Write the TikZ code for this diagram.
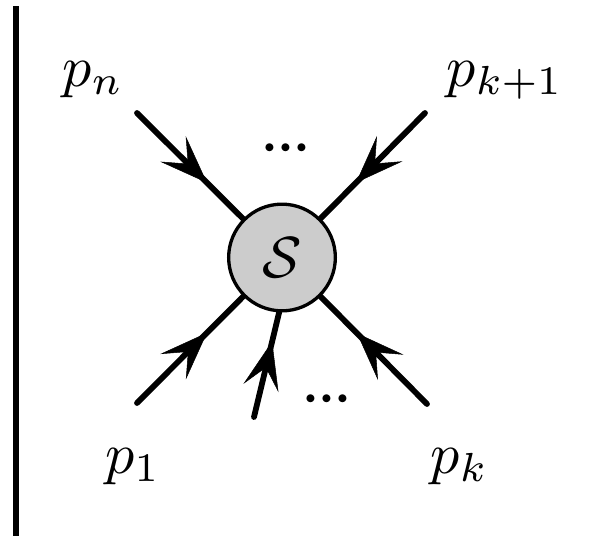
\documentclass[tikz,border=0pt]{standalone}
\usepackage{graphicx}
\usetikzlibrary{arrows.meta,decorations.markings}
\newcommand{\mylbl}[1]{\scalebox{5.8}{$#1$}}
\newcommand{\mydots}{\scalebox{7.5}{$\mathord{\cdot}\mkern-1.2mu\mathord{\cdot}\mkern-1.2mu\mathord{\cdot}$}}
\begin{document}
\begin{tikzpicture}[x=1pt,y=-1pt,
  leg/.style={line width=5.8pt, line cap=round, postaction={decorate},
    decoration={markings, mark=at position 0.5 with {\arrow[xshift=24pt]{Stealth[length=48pt,width=36pt,inset=21pt,line width=0.5pt]}}}},
  lbl/.style={inner sep=0pt, anchor=base},
  blob/.style={circle, draw, line width=3.3pt, fill=gray!40, minimum size=106.7pt, inner sep=0pt}]
\useasboundingbox (0,0) rectangle (595,536);
\fill (13,6) rectangle (19,536);
\node[blob] (S) at (282,257.5) {\mylbl{\mathcal{S}}};
\coordinate (a) at (137,113);
\coordinate (b) at (425,113);
\coordinate (c) at (137,403);
\coordinate (d) at (254,417);
\coordinate (e) at (427,404);
\draw[leg] (a) -- (S);
\draw[leg] (b) -- (S);
\draw[leg] (c) -- (S);
\draw[leg] (d) -- (S.267);
\draw[leg] (e) -- (S);
\node[lbl] (pn) at (93,86) {\mylbl{p_n}};
\node[lbl] (pk1) at (505,86) {\mylbl{p_{k+1}}};
\node[lbl] (p1) at (133,473) {\mylbl{p_1}};
\node[lbl] (pk) at (459.5,473) {\mylbl{p_k}};
\node[lbl] (d1) at (286,166.5) {\mydots};
\node[lbl] (d2) at (327,417) {\mydots};
\end{tikzpicture}
\end{document}
